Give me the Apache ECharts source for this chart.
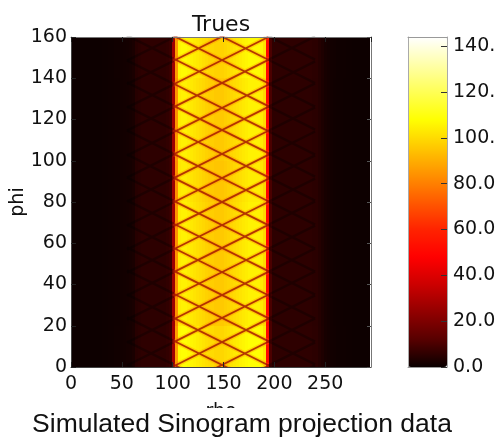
<!DOCTYPE html>
<html><head><meta charset="utf-8">
<style>html,body{margin:0;padding:0;background:#fff}#c{width:502px;height:441px}</style>
<script src="https://cdn.jsdelivr.net/npm/echarts@6/dist/echarts.min.js"></script>
</head><body><div id="c"></div>
<script>
// Counts per 3-rho bin (rho = 0, 3, 6 ... 294)
const rhoProfile = [
 .5,.5,.5,.5,.5,.5,.5,.5,.5,.5,.6,.6,.8,.8,1,1,1.2,1.4,1.6,1.8,2.4,
 4.5,5,5.5,5.5,5.5,5.5,5.5,5.5,5.5,5.5,6,7,
 26,84,104,105,105,104,103,102,101,100,99,98,97,97,96,96,96,97,98,99,100,101,102,103,104,105,105,105,105,104,100,50,
 10,5.5,5.5,5.5,5.5,5.5,5.5,5.5,5.5,5.5,5.5,5.5,5.5,5.5,5,5,4,3,2,1.5,1.2,1,.8,.8,.7,.6,.6,.5,.5,.5,.5,.5,.5];
const rhoBinWidth = 3;
// Relative brightness of each 20-phi strip, bottom to top
const phiStripGain = [1.03,1,1,1,.99,1,1,1.02];
const phiStripHeight = 20;
// Phi at which the lattice tracks cross at rho = 148.5
const crossingPhi = [-21.8,-10.6,1,12.1,23.8,34.9,46,57.7,68.8,80,91.6,103.3,114.9,125.6,137.7,148.8,160.2,171.6,183];
const crossingRho = 148.5;
const trackSlope = 0.2468;
const bandEdges = [101,194];
const trackEnds = [55,240];
const rhoTicksMax = 295;
const phiMax = 160;
const colorMax = 144;
const colorbarLabels = {0:'0.0',20:'20.0',40:'40.0',60:'60.0',80:'80.0',100:'100.',120:'120.',140:'140.'};
const hotColors = ['#0a0000','#570000','#920000','#cc0000','#ff0000','#ff2300','#ff5a00','#ff9200','#ffc900','#ffff02','#ffff55','#ffffaa','#ffffff'];

const cells = [];
rhoProfile.forEach((v,i)=>phiStripGain.forEach((g,j)=>cells.push([i*rhoBinWidth,j*phiStripHeight,v*g])));

function tracks(from,to){
  const out=[];
  crossingPhi.forEach(p=>{
    [1,-1].forEach(sign=>{
      out.push([from,p+sign*trackSlope*(from-crossingRho)]);
      out.push([to,p+sign*trackSlope*(to-crossingRho)]);
      out.push(['-','-']);
    });
  });
  return out;
}
function trackSeries(data,color,width){
  return {type:'line',data:data,xAxisIndex:0,yAxisIndex:0,symbol:'none',silent:true,z:3,clip:true,
    lineStyle:{color:color,width:width,cap:'butt'},connectNulls:false};
}
const inBand=tracks(bandEdges[0],bandEdges[1]);
const outL=tracks(trackEnds[0],bandEdges[0]);
const outR=tracks(bandEdges[1],trackEnds[1]);
const tickLbl={fontFamily:'DejaVu Sans',fontSize:19,color:'#111'};
const chart=echarts.init(document.getElementById('c'),null,{renderer:'canvas'});
const frame='#777';
chart.setOption({
  animation:false,
  backgroundColor:'#fff',
  title:{text:'Trues',left:216,top:9,textAlign:'center',textStyle:{fontFamily:'DejaVu Sans',fontWeight:'normal',fontSize:22,color:'#111'}},
  grid:[{left:71,top:37,width:300,height:330,outerBoundsMode:'none'},{left:408,top:37,width:39,height:330,outerBoundsMode:'none'}],
  xAxis:[
   {gridIndex:0,type:'value',min:0,max:rhoTicksMax,interval:50,position:'bottom',z:5,name:'rho',nameLocation:'middle',nameGap:36,nameMoveOverlap:false,
    nameTextStyle:tickLbl,splitLine:{show:false},axisLine:{onZero:false,lineStyle:{color:'#444',width:1}},
    axisTick:{inside:true,length:5,lineStyle:{color:'#222'}},axisLabel:Object.assign({margin:8,showMaxLabel:false},tickLbl)},
   {gridIndex:0,type:'value',min:0,max:rhoTicksMax,interval:50,position:'top',z:5,splitLine:{show:false},axisLine:{onZero:false,lineStyle:{color:frame}},
    axisTick:{inside:true,length:5,lineStyle:{color:'#222'}},axisLabel:{show:false}},
   {gridIndex:1,type:'value',min:0,max:1,position:'bottom',z:5,splitLine:{show:false},axisLine:{onZero:false,lineStyle:{color:'#999'}},axisTick:{show:false},axisLabel:{show:false}},
   {gridIndex:1,type:'value',min:0,max:1,position:'top',z:5,splitLine:{show:false},axisLine:{onZero:false,lineStyle:{color:'#999'}},axisTick:{show:false},axisLabel:{show:false}}
  ],
  yAxis:[
   {gridIndex:0,type:'value',min:0,max:phiMax,interval:20,position:'left',z:5,name:'phi',nameLocation:'middle',nameGap:43,nameMoveOverlap:false,
    nameTextStyle:tickLbl,splitLine:{show:false},axisLine:{onZero:false,lineStyle:{color:'#444'}},
    axisTick:{inside:true,length:5,lineStyle:{color:'#222'}},axisLabel:Object.assign({margin:4},tickLbl)},
   {gridIndex:0,type:'value',min:0,max:phiMax,interval:20,position:'right',z:5,splitLine:{show:false},axisLine:{onZero:false,lineStyle:{color:frame}},
    axisTick:{inside:true,length:4,lineStyle:{color:'#555'}},axisLabel:{show:false}},
   {gridIndex:1,type:'value',min:0,max:colorMax,interval:20,position:'right',z:5,splitLine:{show:false},axisLine:{onZero:false,lineStyle:{color:'#aaa'}},
    axisTick:{inside:true,length:6,lineStyle:{color:'#333'}},
    axisLabel:Object.assign({margin:6,showMaxLabel:false,formatter:v=>colorbarLabels[v]||''},tickLbl)},
   {gridIndex:1,type:'value',min:0,max:colorMax,position:'left',z:5,splitLine:{show:false},axisLine:{onZero:false,lineStyle:{color:'#aaa'}},axisTick:{show:false},axisLabel:{show:false}}
  ],
  visualMap:{show:true,type:'continuous',seriesIndex:0,dimension:2,min:0,max:colorMax,calculable:false,hoverLink:false,
    orient:'vertical',left:408,top:37,itemWidth:39,itemHeight:330,text:null,showLabel:false,padding:0,
    inRange:{color:hotColors},textStyle:{color:'rgba(0,0,0,0)',fontSize:1}},
  series:[
   {type:'custom',data:cells,xAxisIndex:0,yAxisIndex:0,z:2,silent:true,clip:true,encode:{x:0,y:1},
    renderItem:(params,api)=>{
      const a=api.coord([api.value(0),api.value(1)]);
      const b=api.coord([api.value(0)+rhoBinWidth,api.value(1)+phiStripHeight]);
      const x=Math.round(a[0]),y=Math.round(b[1]);
      return {type:'rect',shape:{x:x,y:y,width:Math.round(b[0])-x,height:Math.round(a[1])-y},style:{fill:api.visual('color')}};
    }},
   trackSeries(inBand,'rgba(255,110,0,0.28)',4.5),
   trackSeries(inBand,'rgba(160,15,0,0.80)',1.8),
   trackSeries(outL,'rgba(0,0,0,0.30)',2.5),
   trackSeries(outR,'rgba(0,0,0,0.30)',2.5)
  ],
  graphic:[
   {type:'rect',z:100,shape:{x:71,y:33,width:300,height:3.5},style:{fill:'#fff'},silent:true},
   {type:'rect',z:100,shape:{x:71,y:368,width:300,height:4},style:{fill:'#fff'},silent:true},
   {type:'rect',z:100,shape:{x:0,y:408,width:502,height:33},style:{fill:'#fff'},silent:true},
   {type:'text',z:101,x:242,y:425,style:{text:'Simulated Sinogram projection data',fontFamily:'Liberation Sans',fontSize:26.5,fill:'#111',textAlign:'center',textVerticalAlign:'middle'},silent:true}
  ]
});
</script></body></html>
